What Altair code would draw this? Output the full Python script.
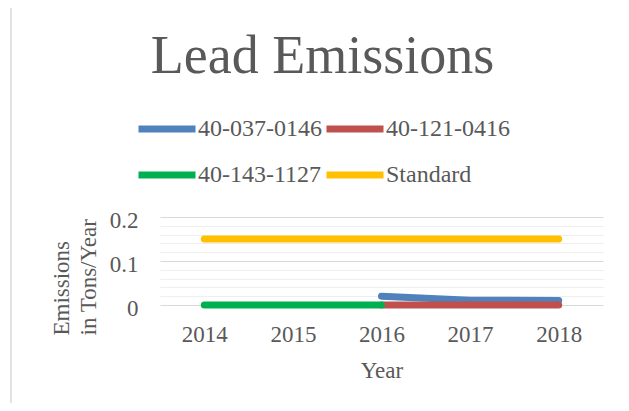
import altair as alt
import pandas as pd

# ---- data ----
years = ["2014", "2015", "2016", "2017", "2018"]
series_names = ["40-037-0146", "40-121-0416", "40-143-1127", "Standard"]
series_colors = ["#4F81BD", "#C0504D", "#00B050", "#FFC000"]

s1_years = ["2016", "2017", "2018"]
s1_values = [0.02, 0.011, 0.01]
s2_years = ["2016", "2017", "2018"]
s2_values = [0.0, 0.0, 0.0]
s3_years = ["2014", "2015", "2016"]
s3_values = [0.0, 0.0, 0.0]
std_years = ["2014", "2015", "2016", "2017", "2018"]
std_values = [0.15, 0.15, 0.15, 0.15, 0.15]

y_grid_values = [0, 0.02, 0.04, 0.06, 0.08, 0.1, 0.12, 0.14, 0.16, 0.18, 0.2]
y_major_values = [0, 0.1, 0.2]

rows = []
for order, (name, ys, vs) in enumerate([
    (series_names[0], s1_years, s1_values),
    (series_names[1], s2_years, s2_values),
    (series_names[2], s3_years, s3_values),
    (series_names[3], std_years, std_values),
]):
    for y, v in zip(ys, vs):
        rows.append({"series": name, "year": y, "value": v, "order": order})
df = pd.DataFrame(rows)

FONT = "Liberation Serif"
GREY = "#595959"
major_list = "[" + ",".join(str(v) for v in y_major_values) + "]"

lines = alt.Chart(df).mark_line(strokeWidth=7, strokeCap="round", strokeJoin="round").encode(
    x=alt.X("year:O", sort=years,
            scale=alt.Scale(type="point", padding=0.5, domain=years),
            axis=alt.Axis(title="Year", labelAngle=0, ticks=False, domain=False, grid=False,
                          labelPadding=18, titleBaseline="alphabetic", titleY=72)),
    y=alt.Y("value:Q",
            scale=alt.Scale(domain=[0, 0.2], nice=False),
            axis=alt.Axis(title=["Emissions", "in Tons/Year"], values=y_grid_values,
                          format=".1~f",
                          labelExpr=f"indexof({major_list}, datum.value) >= 0 ? datum.label : ''",
                          ticks=False, domain=False, labelPadding=22, labelOffset=3,
                          gridColor={"condition": {"test": f"indexof({major_list}, datum.value) >= 0",
                                                   "value": "#d9d9d9"},
                                     "value": "#eeeeee"},
                          titleAngle=-90, titleX=-99, titleY=118, titleBaseline="middle",
                          titleAlign="left", titleLineHeight=27)),
    color=alt.Color("series:N",
                    scale=alt.Scale(domain=series_names, range=series_colors),
                    legend=alt.Legend(title=None, orient="none", legendX=-25, legendY=-120,
                                      columns=2, direction="horizontal",
                                      symbolType="stroke", symbolSize=3249,
                                      symbolStrokeWidth=7, labelFont=FONT, labelFontSize=24,
                                      labelColor=GREY,
                                      columnPadding={"expr": "-10"},
                                      rowPadding={"expr": "-8"},
                                      labelOffset={"expr": "-1"})),
    order=alt.Order("order:Q"),
    detail="series:N",
)

frame_df = pd.DataFrame({"k": [0]})
frame_left = alt.Chart(frame_df).mark_rule(color="#d9d9d9", strokeWidth=1.5).encode(
    x=alt.value(-149), y=alt.value(-211), y2=alt.value(200))
frame_top = alt.Chart(frame_df).mark_rule(color="#d9d9d9", strokeWidth=1.5).encode(
    x=alt.value(-149), x2=alt.value(480), y=alt.value(-211))

chart = alt.layer(frame_left, frame_top, lines).properties(
    width=443, height=88,
    background="white",
    title=alt.TitleParams("Lead Emissions", font=FONT, fontSize=54, fontWeight="normal",
                          color=GREY, anchor="middle", frame="group", dx=-59,
                          baseline="alphabetic", offset=-122),
    padding={"left": 152, "top": 209, "right": 18, "bottom": 98},
    autosize=alt.AutoSizeParams(type="none"),
).configure_view(stroke=None).configure_axis(
    labelFont=FONT, labelFontSize=23, labelColor=GREY,
    titleFont=FONT, titleFontSize=23, titleFontWeight="normal", titleColor=GREY,
).configure_legend(
    labelFont=FONT, labelFontSize=24, labelColor=GREY,
)

chart.save("out.html", embed_options={"renderer": "svg", "actions": False})
